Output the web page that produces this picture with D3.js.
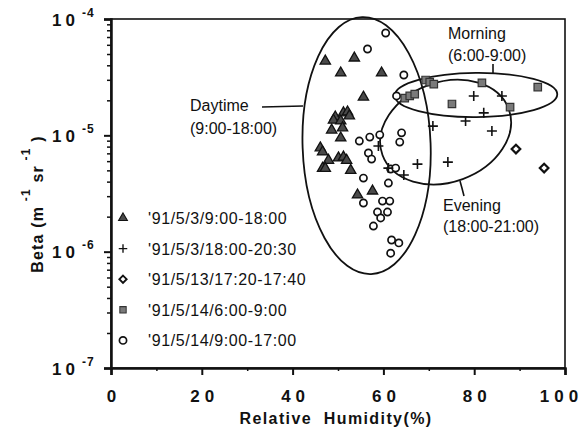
<!DOCTYPE html>
<html>
<head>
<meta charset="utf-8">
<script src="https://cdn.jsdelivr.net/npm/d3@7"></script>
<style>
  body { margin: 0; background: #fff; }
  text { font-family: Arial, "Liberation Sans", Helvetica, sans-serif; fill: #111; }
</style>
</head>
<body>
<svg id="chart"></svg>
<script>
// relative humidity (%) and beta (m^-1 sr^-1)
const tri = [
  [47.2, 4.35e-5], [53.6, 4.62e-5], [50.6, 3.44e-5], [59.6, 3.44e-5], [55.6, 2.13e-5],
  [49.4, 1.44e-5], [49.0, 1.35e-5], [51.2, 1.56e-5], [52.1, 1.59e-5], [52.5, 1.47e-5],
  [50.6, 1.33e-5], [48.6, 1.11e-5], [51.0, 1.16e-5], [50.6, 9.5e-6], [46.1, 7.8e-6],
  [46.6, 7.2e-6], [47.9, 6.1e-6], [46.6, 5.2e-6], [47.2, 5.2e-6], [50.1, 6.4e-6],
  [51.2, 6.5e-6], [51.9, 6.1e-6], [52.8, 5.0e-6], [54.3, 3.07e-6], [57.6, 3.32e-6]
];
const plus = [
  [58.9, 8.09e-6], [61.1, 5.23e-6], [64.5, 4.56e-6], [67.5, 5.66e-6], [74.2, 5.89e-6],
  [70.9, 1.20e-5], [78.1, 1.33e-5], [83.9, 1.09e-5], [82.1, 1.56e-5], [79.9, 2.18e-5],
  [86.1, 2.18e-5]
];
const diamond = [[89.2, 7.62e-6], [95.4, 5.23e-6]];
const square = [
  [64.7, 2.09e-5], [65.8, 2.18e-5], [66.9, 2.26e-5], [69.3, 2.99e-5], [70.2, 2.87e-5],
  [71.1, 2.76e-5], [81.7, 2.82e-5], [75.1, 1.86e-5], [87.9, 1.75e-5], [94.0, 2.60e-5]
];
const circ = [
  [60.5, 7.58e-5], [56.5, 5.52e-5], [64.5, 3.30e-5], [62.9, 2.18e-5], [54.7, 8.93e-6],
  [57.0, 9.66e-6], [59.2, 1.01e-5], [64.0, 1.05e-5], [63.6, 8.75e-6], [56.7, 7.05e-6],
  [57.4, 6.25e-6], [61.6, 5.13e-6], [62.7, 5.23e-6], [55.6, 4.29e-6], [61.1, 3.89e-6],
  [55.6, 2.62e-6], [59.8, 2.72e-6], [61.4, 2.72e-6], [58.7, 2.19e-6], [60.9, 2.19e-6],
  [59.4, 1.95e-6], [57.8, 1.66e-6], [61.8, 1.26e-6], [63.4, 1.19e-6], [61.6, 9.7e-7]
];

const legendLabels = ["'91/5/3/9:00-18:00", "'91/5/3/18:00-20:30", "'91/5/13/17:20-17:40",
  "'91/5/14/6:00-9:00", "'91/5/14/9:00-17:00"];
const xTicks = [0, 20, 40, 60, 80, 100];
const yTicks = [1e-7, 1e-6, 1e-5, 1e-4];

// groupings drawn as ellipses: centre (RH, log10 beta), half widths (RH, decades), tilt (deg)
const groups = [
  { cx: 56.3, cy: -5.088, rx: 14.1, ry: 1.105, rot: -2 },
  { cx: 80.4, cy: -4.653, rx: 17.9, ry: 0.19, rot: -0.5 },
  { cx: 73.7, cy: -4.972, rx: 14.8, ry: 0.43, rot: -20 }
];

const W = 586, H = 429;
const margin = { top: 19, right: 21, bottom: 61, left: 111 };
const width = W - margin.left - margin.right;
const height = H - margin.top - margin.bottom;

const svg = d3.select('#chart').attr('width', W).attr('height', H);
svg.append('rect').attr('width', W).attr('height', H).attr('fill', '#fff');
const g = svg.append('g').attr('transform', `translate(${margin.left},${margin.top})`);

const x = d3.scaleLinear().domain([0, 100]).range([0, width]);
const y = d3.scaleLog().domain([1e-7, 1e-4]).range([height, 0]);

// frame
g.append('rect').attr('width', width).attr('height', height)
  .attr('fill', 'none').attr('stroke', '#111').attr('stroke-width', 1.6);

// x axis
const xMinor = d3.range(10, 100, 20);
g.append('g').attr('transform', `translate(0,${height})`)
  .call(d3.axisBottom(x).tickValues(xMinor).tickSize(3).tickFormat(''))
  .call(s => s.select('.domain').remove())
  .selectAll('line').attr('stroke', '#111').attr('stroke-width', 1.5);
const xa = g.append('g').attr('transform', `translate(0,${height})`)
  .call(d3.axisBottom(x).tickValues(xTicks).tickSize(7).tickFormat(''));
xa.select('.domain').attr('stroke', '#111').attr('stroke-width', 2.5);
xa.selectAll('line').attr('stroke', '#111').attr('stroke-width', 2);
xa.selectAll('.tick').append('text')
  .attr('y', 34).attr('x', d => d === 100 ? -4 : 2.5)
  .attr('text-anchor', 'middle')
  .style('font-size', '17px').style('font-weight', 'bold').style('letter-spacing', '5px')
  .text(d => d);

// y axis
const yMinor = [];
yTicks.slice(0, -1).forEach(t => { for (let k = 2; k <= 9; k++) yMinor.push(t * k); });
g.append('g')
  .call(d3.axisLeft(y).tickValues(yMinor).tickSize(4).tickFormat(''))
  .call(s => s.select('.domain').remove())
  .selectAll('line').attr('stroke', '#111').attr('stroke-width', 1.5);
const ya = g.append('g')
  .call(d3.axisLeft(y).tickValues(yTicks).tickSize(7).tickFormat(''));
ya.select('.domain').attr('stroke', '#111').attr('stroke-width', 2.5);
ya.selectAll('line').attr('stroke', '#111').attr('stroke-width', 2);
ya.selectAll('.tick').append('text')
  .attr('x', -59).attr('y', 6).attr('text-anchor', 'start')
  .style('font-size', '17px').style('font-weight', 'bold').style('letter-spacing', '4px')
  .text('10');
ya.selectAll('.tick').append('text')
  .attr('x', -29).attr('y', -3).attr('text-anchor', 'start')
  .style('font-size', '12px').style('font-weight', 'bold').style('letter-spacing', '1px')
  .text(d => String(Math.round(Math.log10(d))));

// axis titles
svg.append('text').attr('x', 336).attr('y', 424).attr('text-anchor', 'middle')
  .style('font-size', '16px').style('font-weight', 'bold').style('letter-spacing', '1.4px')
  .attr('xml:space', 'preserve').text('Relative  Humidity(%)');

const yt = svg.append('text').attr('transform', 'translate(43,204) rotate(-90)')
  .attr('text-anchor', 'middle')
  .style('font-size', '16px').style('font-weight', 'bold').style('letter-spacing', '1.2px');
yt.append('tspan').text('Beta (m');
yt.append('tspan').attr('dy', -13).style('font-size', '12px').text(' -1');
yt.append('tspan').attr('dy', 13).text(' sr');
yt.append('tspan').attr('dy', -13).style('font-size', '12px').text(' -1');
yt.append('tspan').attr('dy', 13).text(' )');

// ellipses
groups.forEach(e => {
  const px = x(e.cx), py = y(Math.pow(10, e.cy));
  const rx = x(e.cx + e.rx) - px;
  const ry = py - y(Math.pow(10, e.cy + e.ry));
  g.append('ellipse').attr('cx', 0).attr('cy', 0).attr('rx', rx).attr('ry', ry)
    .attr('transform', `translate(${px},${py}) rotate(${e.rot})`)
    .attr('fill', 'none').attr('stroke', '#111').attr('stroke-width', 1.8);
});

// annotation labels and leader lines
const ann = svg.append('g').style('font-size', '16px');
ann.append('text').attr('x', 190).attr('y', 111).text('Daytime');
ann.append('text').attr('x', 190).attr('y', 134).text('(9:00-18:00)');
ann.append('text').attr('x', 448).attr('y', 39).text('Morning');
ann.append('text').attr('x', 448).attr('y', 61).text('(6:00-9:00)');
ann.append('text').attr('x', 443).attr('y', 211).text('Evening');
ann.append('text').attr('x', 443).attr('y', 232).text('(18:00-21:00)');
svg.append('path').attr('d', 'M262,107 L303,106').attr('stroke', '#111').attr('stroke-width', 1.6);
svg.append('path').attr('d', 'M493,64 L493,73').attr('stroke', '#111').attr('stroke-width', 1.6);
svg.append('path').attr('d', 'M460,181 Q462,188 464,196').attr('fill', 'none')
  .attr('stroke', '#111').attr('stroke-width', 1.6);

// marker shapes
const symTri = d3.symbol().type(d3.symbolTriangle).size(46);
const symPlus = 'M-5,0H5M0,-5V5';
const symDia = 'M0,-4.3L4.3,0L0,4.3L-4.3,0Z';
const symSq = d3.symbol().type(d3.symbolSquare).size(56);

function drawTri(sel) {
  sel.append('path').attr('d', symTri()).attr('fill', '#4a4a4a').attr('stroke', '#111').attr('stroke-width', 1.3);
}
function drawPlus(sel) {
  sel.append('path').attr('d', symPlus).attr('stroke', '#111').attr('stroke-width', 1.6);
}
function drawDia(sel) {
  sel.append('path').attr('d', symDia).attr('fill', '#fff').attr('stroke', '#111').attr('stroke-width', 2.2);
}
function drawSq(sel) {
  sel.append('path').attr('d', symSq()).attr('fill', '#7a7a7a').attr('stroke', '#333').attr('stroke-width', 1.2);
}
function drawCirc(sel) {
  sel.append('circle').attr('r', 3.6).attr('fill', '#fff').attr('stroke', '#111').attr('stroke-width', 1.7);
}

const series = [
  { data: circ, draw: drawCirc },
  { data: tri, draw: drawTri },
  { data: plus, draw: drawPlus },
  { data: diamond, draw: drawDia },
  { data: square, draw: drawSq }
];
series.forEach(s => {
  g.append('g').selectAll('g').data(s.data).enter().append('g')
    .attr('transform', d => `translate(${x(d[0])},${y(d[1])})`)
    .call(s.draw);
});

// legend
const legendDraw = [drawTri, drawPlus, drawDia, drawSq, drawCirc];
const leg = svg.append('g').attr('transform', 'translate(123,218)');
legendLabels.forEach((lab, i) => {
  const row = leg.append('g').attr('transform', `translate(0,${i * 30.6})`);
  row.call(legendDraw[i]);
  row.select('path').attr('transform', 'scale(0.85)');
  row.append('text').attr('x', 25).attr('y', 6)
    .style('font-size', '16px').style('letter-spacing', '0.6px').text(lab);
});
</script>
</body>
</html>
